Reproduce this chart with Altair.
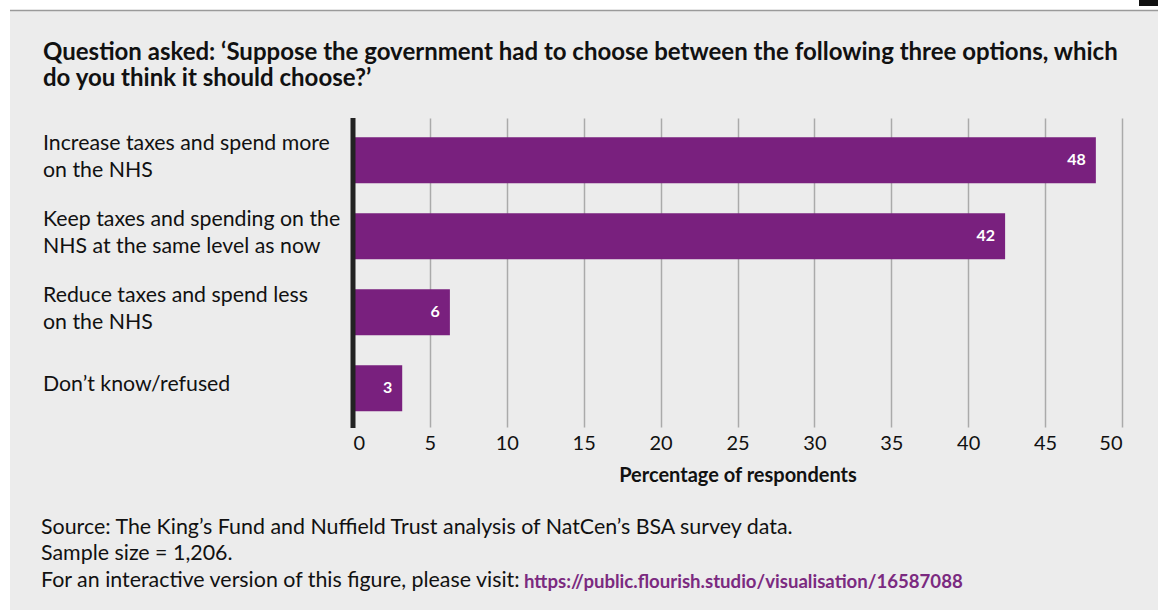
import altair as alt
import pandas as pd

categories = [
    "Increase taxes and spend more\non the NHS",
    "Keep taxes and spending on the\nNHS at the same level as now",
    "Reduce taxes and spend less\non the NHS",
    "Don\u2019t know/refused",
]
values = [48.3, 42.4, 6.3, 3.2]
value_labels = ["48", "42", "6", "3"]
x_ticks = [0, 5, 10, 15, 20, 25, 30, 35, 40, 45, 50]

title_text = ("Question asked: \u2018Suppose the government had to choose between the following three options, which\n"
              "do you think it should choose?\u2019")
footer_lines = [
    "Source: The King\u2019s Fund and Nuffield Trust analysis of NatCen\u2019s BSA survey data.",
    "Sample size = 1,206.",
    "For an interactive version of this figure, please visit:",
]
link_text = "https://public.flourish.studio/visualisation/16587088"

PURPLE = "#79207e"
FONT = "Lato"

df = pd.DataFrame({"cat": categories, "value": values, "label": value_labels})
df["nlines"] = [c.count("\n") + 1 for c in categories]
one = pd.DataFrame({"a": [0]})

W, H = 769, 309
L, T = 353, 118

ysc = alt.Scale(domain=categories, paddingInner=0.395, paddingOuter=0.23, align=0.55)
xsc = alt.Scale(domain=[0, 50], nice=False)

top_white = alt.Chart(one).mark_rect(color="white").encode(
    x=alt.value(-L), x2=alt.value(1158 - L + 5), y=alt.value(-T - 5), y2=alt.value(10 - T),
)
left_white = alt.Chart(one).mark_rect(color="white").encode(
    x=alt.value(-L - 5), x2=alt.value(10 - L), y=alt.value(-T - 5), y2=alt.value(610 - T + 5),
)
topline = alt.Chart(one).mark_rule(color="#9a9a9a", strokeWidth=1.5).encode(
    x=alt.value(10 - L), x2=alt.value(1158 - L + 5), y=alt.value(10.5 - T),
)
icon = alt.Chart(one).mark_rect(color="#111111").encode(
    x=alt.value(1139 - L), x2=alt.value(1158 - L), y=alt.value(-T - 2), y2=alt.value(6 - T),
)

bars = alt.Chart(df).mark_bar(color=PURPLE).encode(
    x=alt.X("value:Q", scale=xsc,
            axis=alt.Axis(values=x_ticks, title="Percentage of respondents",
                          grid=True, gridColor="#aaaaaa", gridWidth=1.5,
                          domain=False, ticks=False, labelPadding=6,
                          labelFontSize=20, labelFont=FONT, labelColor="#111111",
                          titleFont=FONT, titleFontSize=20, titleFontWeight="bold",
                          titleColor="#111111", titlePadding=12)),
    y=alt.Y("cat:N", scale=ysc, sort=categories, axis=None),
)

vals = alt.Chart(df).mark_text(align="right", baseline="middle", dx=-10, color="white",
                               font=FONT, fontSize=16, fontWeight="bold").encode(
    x=alt.X("value:Q", scale=xsc), y=alt.Y("cat:N", scale=ysc, sort=categories), text="label:N",
)

ylabels2 = alt.Chart(df).transform_filter("datum.nlines == 2").mark_text(
    align="left", baseline="middle", lineBreak="\n", lineHeight=27, font=FONT,
    fontSize=21.3, color="#111111", dy=-16).encode(
    x=alt.value(43 - L), y=alt.Y("cat:N", scale=ysc, sort=categories), text="cat:N",
)
ylabels1 = alt.Chart(df).transform_filter("datum.nlines == 1").mark_text(
    align="left", baseline="middle", font=FONT, fontSize=21.3, color="#111111", dy=-3).encode(
    x=alt.value(43 - L), y=alt.Y("cat:N", scale=ysc, sort=categories), text="cat:N",
)

zero = alt.Chart(one).mark_rule(color="#222222", strokeWidth=5).encode(
    x=alt.value(0), y=alt.value(0), y2=alt.value(H + 1),
)

tdf = pd.DataFrame({"t": [title_text]})
title = alt.Chart(tdf).mark_text(align="left", baseline="middle", lineBreak="\n", lineHeight=25.5,
                                 font=FONT, fontSize=24, fontWeight="bold", color="#111111").encode(
    x=alt.value(43 - L), y=alt.value(53 - T), text="t:N",
)

fdf = pd.DataFrame({"t": footer_lines, "y": [528 - T, 554 - T, 581 - T]})
footer = alt.Chart(fdf).mark_text(align="left", baseline="middle", font=FONT, fontSize=21.4,
                                  color="#111111").encode(
    x=alt.value(41 - L), y=alt.Y("y:Q", scale=None), text="t:N",
)
ldf = pd.DataFrame({"t": [link_text], "y": [582 - T]})
link = alt.Chart(ldf).mark_text(align="left", baseline="middle", font=FONT, fontSize=18.6,
                                fontWeight="bold", color="#7b2a80").encode(
    x=alt.value(524 - L), y=alt.Y("y:Q", scale=None), text="t:N",
)

chart = alt.layer(top_white, left_white, topline, icon, bars, vals, zero, ylabels2, ylabels1,
                  title, footer, link).properties(
    width=W, height=H,
    autosize=alt.AutoSizeParams(type="none"),
    padding={"left": L, "top": T, "right": 1158 - L - W, "bottom": 610 - T - H},
    background="#ececec",
).configure_view(stroke=None)

chart.save("out.html", embed_options={"renderer": "svg", "actions": False})
